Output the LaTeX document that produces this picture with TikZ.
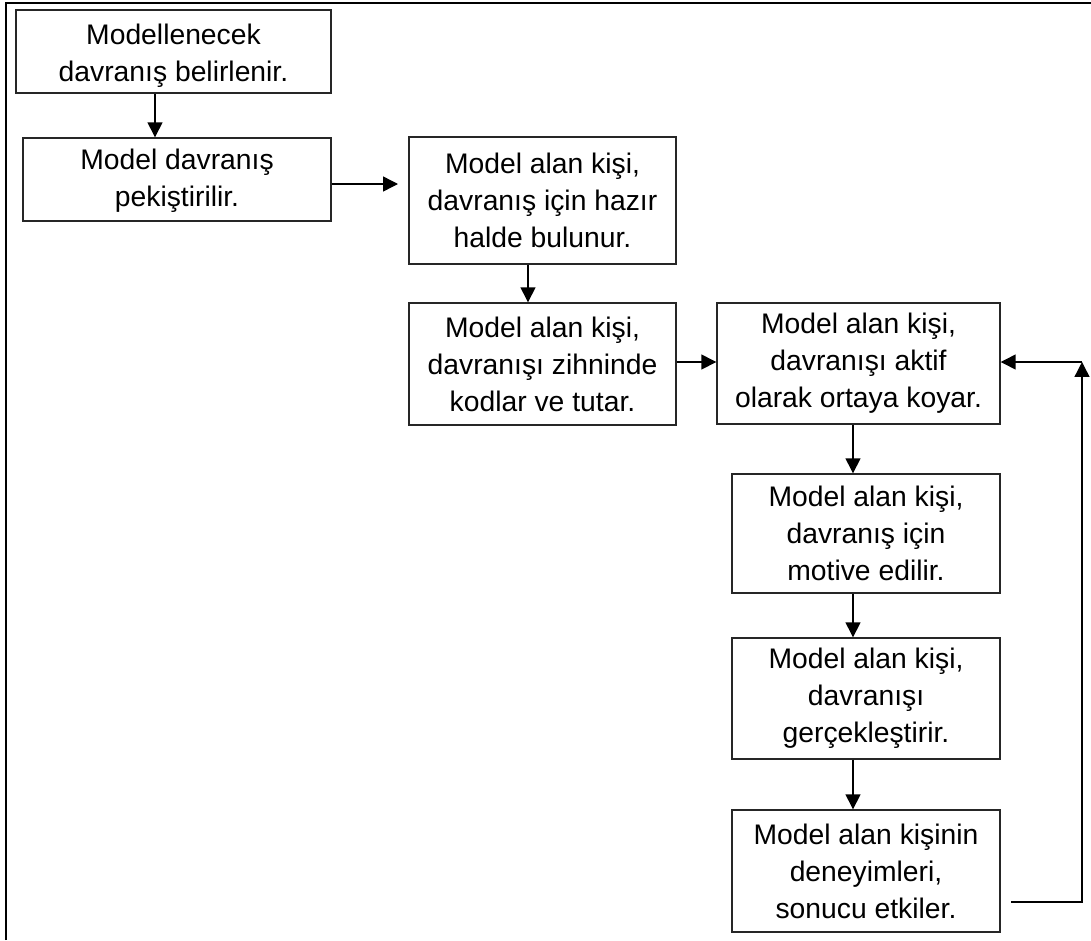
\documentclass[tikz,border=0pt]{standalone}
\usepackage{fontspec}
\setmainfont{Liberation Sans}
\usetikzlibrary{arrows.meta}
\begin{document}
\begin{tikzpicture}[x=0.02cm,y=-0.02cm,
  box/.style={draw=black!85, line width=0.8pt, align=center, inner sep=0pt,
    font=\fontsize{16.1}{21}\selectfont},
  boxtext/.style={align=center, inner sep=0pt, font=\fontsize{16.1}{21}\selectfont},
  conn/.style={line width=0.8pt, -{Triangle[length=8.5pt,width=8.5pt]}}]
\useasboundingbox (0,0) rectangle (1091,940);
\draw[line width=1.1pt] (6,940) -- (6,3) -- (1091,3);
\node[box, minimum width=315*0.02cm, minimum height=83*0.02cm] (b1) at (173.5,51.5) {};
\node[boxtext] (b1t) at (173.5,56) {Modellenecek\\davranış belirlenir.};
\node[box, minimum width=308*0.02cm, minimum height=83*0.02cm] (b2) at (177,179.5) {};
\node[boxtext] (b2t) at (177,181) {Model davranış\\pekiştirilir.};
\node[box, minimum width=267*0.02cm, minimum height=127*0.02cm] (b3) at (542.5,200.5) {Model alan kişi,\\davranış için hazır\\halde bulunur.};
\node[box, minimum width=267*0.02cm, minimum height=122*0.02cm] (b4) at (542.5,364) {Model alan kişi,\\davranışı zihninde\\kodlar ve tutar.};
\node[box, minimum width=283*0.02cm, minimum height=121*0.02cm] (b5) at (858.5,363.5) {Model alan kişi,\\davranışı aktif\\olarak ortaya koyar.};
\node[box, minimum width=268*0.02cm, minimum height=119*0.02cm] (b6) at (866,533.5) {Model alan kişi,\\davranış için\\motive edilir.};
\node[box, minimum width=268*0.02cm, minimum height=121*0.02cm] (b7) at (866,698.5) {Model alan kişi,\\davranışı\\gerçekleştirir.};
\node[box, minimum width=268*0.02cm, minimum height=122*0.02cm] (b8) at (866,871) {Model alan kişinin\\deneyimleri,\\sonucu etkiler.};
\coordinate (xa) at (155,0);
\coordinate (ya) at (0,184);
\coordinate (t23) at (398,184);
\coordinate (xb) at (528,0);
\coordinate (yc) at (0,362);
\coordinate (xd) at (853,0);
\coordinate (fb1) at (1011,902);
\coordinate (fb2) at (1082,902);
\coordinate (fb3) at (1082,362);
\draw[conn] (b1.south -| xa) -- (b2.north -| xa);
\draw[conn] (b2.east |- ya) -- (t23);
\draw[conn] (b3.south -| xb) -- (b4.north -| xb);
\draw[conn] (b4.east |- yc) -- (b5.west |- yc);
\draw[conn] (b5.south -| xd) -- (b6.north -| xd);
\draw[conn] (b6.south -| xd) -- (b7.north -| xd);
\draw[conn] (b7.south -| xd) -- (b8.north -| xd);
\draw[conn] (fb1) -- (fb2) -- (fb3);
\draw[conn] (fb3) -- (b5.east |- fb3);
\end{tikzpicture}
\end{document}
